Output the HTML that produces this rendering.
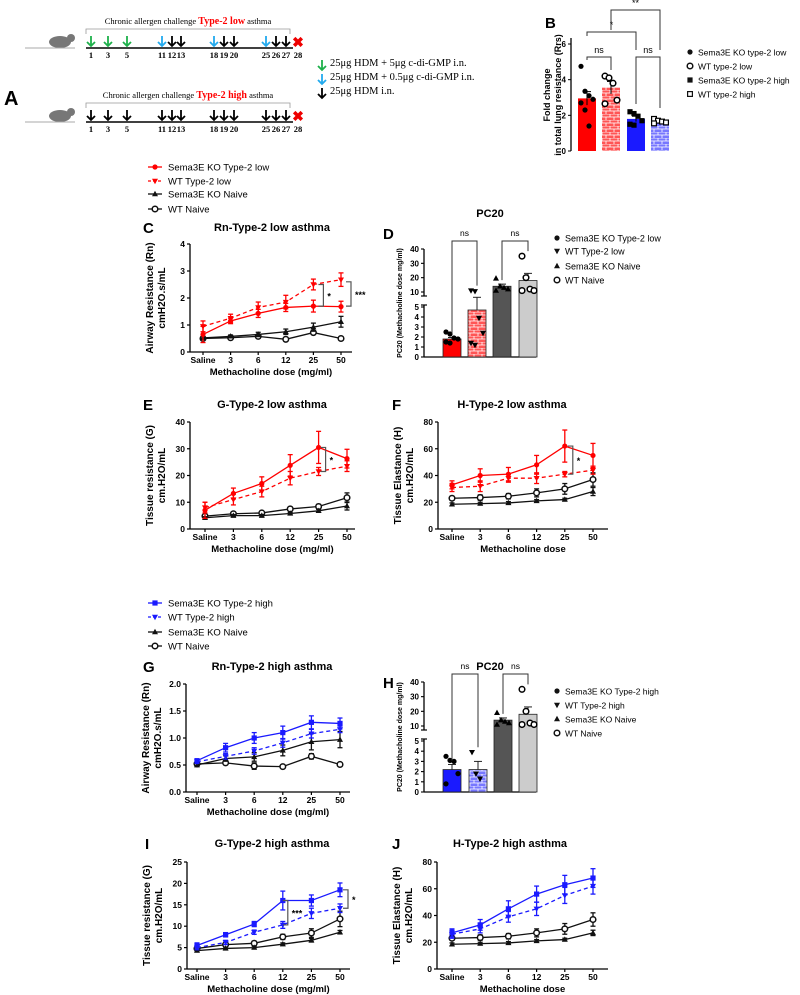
<!DOCTYPE html>
<html><head><meta charset="utf-8">
<style>
body{margin:0;background:#fff;}
svg{display:block;font-family:"Liberation Sans",Arial,sans-serif;}
.b{font-weight:bold;}
.serif{font-family:"Liberation Serif",serif;}
</style></head>
<body>
<svg id="fig" width="800" height="995" viewBox="0 0 800 995" xmlns="http://www.w3.org/2000/svg">
<g>
<text x="4" y="105" font-size="20" class="b">A</text>
<g id="tl"></g>
<text x="330" y="66" font-size="10.5" class="serif">25μg HDM + 5μg c-di-GMP i.n.</text>
<text x="330" y="80" font-size="10.5" class="serif">25μg HDM + 0.5μg c-di-GMP i.n.</text>
<text x="330" y="94" font-size="10.5" class="serif">25μg HDM i.n.</text>
</g>
<g id="g-b"></g>
<g id="g-c"></g>
<g id="g-d"></g>
<g id="g-e"></g>
<g id="g-f"></g>
<g id="g-g"></g>
<g id="g-h"></g>
<g id="g-i"></g>
<g id="g-j"></g>
<g id="legends"></g>
</svg>
<script>
const NS="http://www.w3.org/2000/svg";
const doseLabels=["Saline","3","6","12","25","50"];
const cKOlow=[0.65,1.15,1.43,1.65,1.7,1.68], cKOlowErr=[0.3,0.1,0.15,0.15,0.22,0.2];
const cWTlow=[0.95,1.25,1.65,1.85,2.5,2.68], cWTlowErr=[0.2,0.15,0.2,0.25,0.2,0.25];
const cKOnaive=[0.52,0.58,0.65,0.75,0.92,1.12], cKOnaiveErr=[0.04,0.05,0.08,0.1,0.15,0.2];
const cWTnaive=[0.5,0.53,0.58,0.47,0.72,0.5], cWTnaiveErr=[0.04,0.04,0.06,0.03,0.06,0.03];
const eKOlow=[7,13.3,17,23.8,30.5,26.3], eKOlowErr=[3,2,2.5,4,6,3.5];
const eWTlow=[8,11,14,19,21.5,23.5], eWTlowErr=[2,2,2,2.5,1.5,2];
const eKOnaive=[4.2,5,5,5.8,6.8,8.6], eKOnaiveErr=[0.4,0.4,0.4,0.4,0.5,1.5];
const eWTnaive=[4.8,5.7,6,7.5,8.4,11.7], eWTnaiveErr=[0.5,0.5,0.5,0.6,0.8,1.8];
const fKOlow=[33,40,41,48,62,55], fKOlowErr=[3,5,5,7,12,9];
const fWTlow=[31,32,38,38,41,44], fWTlowErr=[3,4,3,4,2,3];
const fKOnaive=[18.5,19,19.5,21,22,28], fKOnaiveErr=[1,1,1,1,1,3];
const fWTnaive=[23,23.5,24.5,27,30,37], fWTnaiveErr=[1.5,2,2,3,4,5];
const gKOhigh=[0.58,0.82,1.0,1.1,1.29,1.27], gKOhighErr=[0.03,0.08,0.1,0.12,0.12,0.1];
const gWThigh=[0.56,0.66,0.76,0.91,1.08,1.16], gWThighErr=[0.03,0.05,0.06,0.08,0.08,0.06];
const gKOnaive=[0.5,0.62,0.65,0.77,0.93,0.97], gKOnaiveErr=[0.03,0.05,0.08,0.1,0.15,0.15];
const gWTnaive=[0.52,0.54,0.48,0.47,0.66,0.51], gWTnaiveErr=[0.03,0.03,0.06,0.02,0.05,0.02];
const iKOhigh=[5.5,8,10.5,16,16,18.5], iKOhighErr=[0.6,0.5,0.6,2.2,1.3,1.6];
const iWThigh=[5,6.2,8.6,10.3,13,14.2], iWThighErr=[0.5,0.5,0.5,0.8,1.2,1];
const iKOnaive=[4.3,4.8,5,5.8,6.7,8.6], iKOnaiveErr=[0.3,0.3,0.3,0.3,0.4,0.4];
const iWTnaive=[4.8,5.7,6,7.5,8.4,11.7], iWTnaiveErr=[0.5,0.5,0.5,0.6,1,1.8];
const jKOhigh=[27,33,45,56,63,68], jKOhighErr=[3,4,6,6,7,7];
const jWThigh=[26,30,39,45,55,62], jWThighErr=[3,3,4,5,6,6];
const jKOnaive=[18.5,19,19.5,21,22,27], jKOnaiveErr=[1,1,1,1,1,2];
const jWTnaive=[23,23.5,24.5,27,30,37], jWTnaiveErr=[1.5,2,2,3,4,5];
const bCats=["Sema3E KO type-2 low","WT type-2 low","Sema3E KO type-2 high","WT type-2 high"];
const bMeans=[2.95,3.55,1.8,1.65], bErr=[0.38,0.35,0.15,0.1];
const bPts=[[4.75,3.35,3.1,2.9,2.7,2.3,1.4],[4.2,4.1,3.8,2.85,2.65],[2.2,2.1,1.95,1.7,1.5,1.45],[1.8,1.7,1.65,1.6,1.55]];
const bTicks=[0,2,4,6];
const dMeans=[1.8,4.7,14,18], dErr=[0.15,1.6,1.5,5];
const dPts=[[2.5,2.3,1.9,1.8,1.5,1.4],[11,10.5,3.9,2.4,1.4,1.2],[19.5,14,13,12,11],[35,20,12,11,11]];
const hMeans=[2.2,2.2,14,18], hErr=[0.5,0.8,1.5,5];
const hPts=[[3.5,3.1,3.0,1.8,0.8],[3.9,1.8,1.3],[19,14,13,12,11],[35,20,12,11,11]];
const pcTicksLow=[0,1,2,3,4,5], pcTicksHigh=[10,20,30,40];

function el(tag,attrs,parent,txt){const e=document.createElementNS(NS,tag);for(const k in attrs)e.setAttribute(k,attrs[k]);if(txt!==undefined)e.textContent=txt;parent.appendChild(e);return e;}

function marker(g,type,x,y,color){
  let m;
  if(type==="circle"){m=el("circle",{cx:x,cy:y,r:2.6,fill:color},g);}
  else if(type==="ocircle"){m=el("circle",{cx:x,cy:y,r:2.8,fill:"#fff",stroke:color,"stroke-width":1.5},g);}
  else if(type==="square"){m=el("rect",{x:x-2.6,y:y-2.6,width:5.2,height:5.2,fill:color},g);}
  else if(type==="osquare"){m=el("rect",{x:x-2.4,y:y-2.4,width:4.8,height:4.8,fill:"#fff",stroke:color,"stroke-width":1.2},g);}
  else if(type==="tri"){m=el("polygon",{points:`${x},${y-3.2} ${x-3},${y+2.2} ${x+3},${y+2.2}`,fill:color},g);}
  else {m=el("polygon",{points:`${x},${y+3.2} ${x-3},${y-2.2} ${x+3},${y-2.2}`,fill:color},g);}
  
  
}

function lineChart(g,o){
  const n=doseLabels.length;
  const X=i=>o.x0+(o.x1-o.x0)*i/(n-1);
  const Y=v=>o.yb-(o.yb-o.yt)*(v-o.ymin)/(o.ymax-o.ymin);
  const ya=el("line",{x1:o.ax,y1:o.yt,x2:o.ax,y2:o.yb,stroke:"#000","stroke-width":1.3},g);
  
  
  const xa=el("line",{x1:o.ax,y1:o.yb,x2:o.axEnd,y2:o.yb,stroke:"#000","stroke-width":1.3},g);
  
  
  o.yticks.forEach((t,k)=>{
    el("line",{x1:o.ax-3,y1:Y(t),x2:o.ax,y2:Y(t),stroke:"#000","stroke-width":1.2},g);
    const tl=el("text",{x:o.ax-5,y:Y(t)+3,"font-size":8.5,"text-anchor":"end",class:"b"},g,o.ytickLabels?o.ytickLabels[k]:t);
    
    
  });
  doseLabels.forEach((d,i)=>{
    el("line",{x1:X(i),y1:o.yb,x2:X(i),y2:o.yb+3,stroke:"#000","stroke-width":1.2},g);
    const tl=el("text",{x:X(i),y:o.yb+11,"font-size":8.5,"text-anchor":"middle",class:"b"},g,d);
    
    
  });
  const xt=el("text",{x:(o.ax+o.axEnd)/2,y:o.yb+23,"font-size":9.5,"text-anchor":"middle",class:"b"},g,o.xlabel);
  
  
  const cy=(o.yt+o.yb)/2;
  const y1=el("text",{x:0,y:0,"font-size":10,"text-anchor":"middle",class:"b",transform:`translate(${o.ax-37},${cy}) rotate(-90)`},g,o.ylab1);
  
  
  const y2=el("text",{x:0,y:0,"font-size":10,"text-anchor":"middle",class:"b",transform:`translate(${o.ax-25},${cy}) rotate(-90)`},g,o.ylab2);
  
  
  const tt=el("text",{x:o.titleX,y:o.titleY,"font-size":11,"text-anchor":"middle",class:"b"},g,o.title);
  
  
  const pl=el("text",{x:o.lblX,y:o.titleY+2,"font-size":15,class:"b"},g,o.letter);
  
  
  o.series.forEach(s=>{
    const sg=el("g",{},g);
    
    
    const pts=s.v.map((v,i)=>`${X(i)},${Y(v)}`).join(" ");
    el("polyline",{points:pts,fill:"none",stroke:s.color,"stroke-width":1.3,"stroke-dasharray":s.dash?"4,3":"none"},sg);
    s.v.forEach((v,i)=>{
      const e=s.e[i];
      el("line",{x1:X(i),y1:Y(v+e),x2:X(i),y2:Y(v-e),stroke:s.color,"stroke-width":1.3},sg);
      el("line",{x1:X(i)-2.5,y1:Y(v+e),x2:X(i)+2.5,y2:Y(v+e),stroke:s.color,"stroke-width":1.3},sg);
      el("line",{x1:X(i)-2.5,y1:Y(v-e),x2:X(i)+2.5,y2:Y(v-e),stroke:s.color,"stroke-width":1.3},sg);
      marker(sg,s.m,X(i),Y(v),s.color);
    });
  });
  (o.sig||[]).forEach(sg=>{
    const xx=X(sg.i)+sg.dx;
    const ya1=Y(sg.a), yb1=Y(sg.b);
    el("polyline",{points:`${xx-5},${ya1} ${xx},${ya1} ${xx},${yb1} ${xx-5},${yb1}`,fill:"none",stroke:"#555","stroke-width":1.2},g);
    const st=el("text",{x:xx+4,y:(ya1+yb1)/2+4,"font-size":9,class:"b"},g,sg.t);
    
    
  });
}

const RED="#f00", BLUE="#1a1aff", BLK="#111";
function lowSeries(a,ae,b,be,c,ce,d,de){return [
 {name:"series-wt-naive",v:d,e:de,color:BLK,m:"ocircle"},
 {name:"series-ko-naive",v:c,e:ce,color:BLK,m:"tri"},
 {name:"series-wt-type2-low",v:b,e:be,color:RED,m:"dtri",dash:true},
 {name:"series-ko-type2-low",v:a,e:ae,color:RED,m:"circle"}];}
function highSeries(a,ae,b,be,c,ce,d,de){return [
 {name:"series-wt-naive",v:d,e:de,color:BLK,m:"ocircle"},
 {name:"series-ko-naive",v:c,e:ce,color:BLK,m:"tri"},
 {name:"series-wt-type2-high",v:b,e:be,color:BLUE,m:"dtri",dash:true},
 {name:"series-ko-type2-high",v:a,e:ae,color:BLUE,m:"square"}];}

lineChart(document.getElementById("g-c"),{ax:190,axEnd:352,x0:203,x1:341,yt:244,yb:352,ymin:0,ymax:4,yticks:[0,1,2,3,4],
 xlabel:"Methacholine dose (mg/ml)",ylab1:"Airway Resistance (Rn)",ylab2:"cmH2O.s/mL",title:"Rn-Type-2 low asthma",titleX:272,titleY:231,lblX:143,letter:"C",
 series:lowSeries(cKOlow,cKOlowErr,cWTlow,cWTlowErr,cKOnaive,cKOnaiveErr,cWTnaive,cWTnaiveErr),
 sig:[{i:4,dx:10,a:2.5,b:1.7,t:"*"},{i:5,dx:10,a:2.6,b:1.7,t:"***"}]});
lineChart(document.getElementById("g-e"),{ax:190,axEnd:355,x0:205,x1:347,yt:422,yb:529,ymin:0,ymax:40,yticks:[0,10,20,30,40],
 xlabel:"Methacholine dose (mg/ml)",ylab1:"Tissue resistance (G)",ylab2:"cm.H2O/mL",title:"G-Type-2 low asthma",titleX:272,titleY:408,lblX:143,letter:"E",
 series:lowSeries(eKOlow,eKOlowErr,eWTlow,eWTlowErr,eKOnaive,eKOnaiveErr,eWTnaive,eWTnaiveErr),
 sig:[{i:4,dx:7,a:30.5,b:21.5,t:"*"}]});
lineChart(document.getElementById("g-f"),{ax:438,axEnd:608,x0:452,x1:593,yt:422,yb:529,ymin:0,ymax:80,yticks:[0,20,40,60,80],
 xlabel:"Methacholine dose",ylab1:"Tissue Elastance (H)",ylab2:"cm.H2O/mL",title:"H-Type-2 low asthma",titleX:512,titleY:408,lblX:392,letter:"F",
 series:lowSeries(fKOlow,fKOlowErr,fWTlow,fWTlowErr,fKOnaive,fKOnaiveErr,fWTnaive,fWTnaiveErr),
 sig:[{i:4,dx:8,a:62,b:41,t:"*"}]});
lineChart(document.getElementById("g-g"),{ax:186,axEnd:350,x0:197,x1:340,yt:684,yb:792,ymin:0,ymax:2,yticks:[0,0.5,1,1.5,2],ytickLabels:["0.0","0.5","1.0","1.5","2.0"],
 xlabel:"Methacholine dose (mg/ml)",ylab1:"Airway Resistance (Rn)",ylab2:"cmH2O.s/mL",title:"Rn-Type-2 high asthma",titleX:272,titleY:670,lblX:143,letter:"G",
 series:highSeries(gKOhigh,gKOhighErr,gWThigh,gWThighErr,gKOnaive,gKOnaiveErr,gWTnaive,gWTnaiveErr)});
lineChart(document.getElementById("g-i"),{ax:187,axEnd:350,x0:197,x1:340,yt:862,yb:969,ymin:0,ymax:25,yticks:[0,5,10,15,20,25],
 xlabel:"Methacholine dose (mg/ml)",ylab1:"Tissue resistance (G)",ylab2:"cm.H2O/mL",title:"G-Type-2 high asthma",titleX:272,titleY:847,lblX:145,letter:"I",
 series:highSeries(iKOhigh,iKOhighErr,iWThigh,iWThighErr,iKOnaive,iKOnaiveErr,iWTnaive,iWTnaiveErr),
 sig:[{i:3,dx:5,a:16,b:10.3,t:"***"},{i:5,dx:8,a:18.5,b:14.2,t:"*"}]});
lineChart(document.getElementById("g-j"),{ax:437,axEnd:608,x0:452,x1:593,yt:862,yb:969,ymin:0,ymax:80,yticks:[0,20,40,60,80],
 xlabel:"Methacholine dose",ylab1:"Tissue Elastance (H)",ylab2:"cm.H2O/mL",title:"H-Type-2 high asthma",titleX:510,titleY:847,lblX:392,letter:"J",
 series:highSeries(jKOhigh,jKOhighErr,jWThigh,jWThighErr,jKOnaive,jKOnaiveErr,jWTnaive,jWTnaiveErr)});

const svg=document.getElementById("fig");
const defs=el("defs",{},svg);
function brick(id,c,bg){const p=el("pattern",{id:id,width:8,height:6,patternUnits:"userSpaceOnUse"},defs);
 el("rect",{width:8,height:6,fill:bg},p);
 el("path",{d:"M0 0H8M0 3H8M2 0V3M6 3V6",stroke:c,"stroke-width":0.8,fill:"none"},p);}
brick("brickRed","#fff","#f55");
brick("brickBlue","#fff","#77f");

function pcChart(g,o,means,errs,pts){
  const Y=v=> v<=5 ? o.y0-(o.y0-o.y5)*v/5 : o.y10-(o.y10-o.y40)*(v-10)/30;
  const ax=o.ax;
  let a=el("line",{x1:ax,y1:o.y5-2,x2:ax,y2:o.y0,stroke:"#000","stroke-width":1.3},g);
  
  
  a=el("line",{x1:ax,y1:o.y40,x2:ax,y2:o.y10+4,stroke:"#000","stroke-width":1.3},g);
  
  
  el("line",{x1:ax-3,y1:o.y10+4,x2:ax+3,y2:o.y10+4,stroke:"#000","stroke-width":1.2},g);
  el("line",{x1:ax-3,y1:o.y5-2,x2:ax+3,y2:o.y5-2,stroke:"#000","stroke-width":1.2},g);
  const xa=el("line",{x1:ax,y1:o.y0,x2:ax+112,y2:o.y0,stroke:"#000","stroke-width":1.3},g);
  
  
  pcTicksLow.concat(pcTicksHigh).forEach(t=>{
    el("line",{x1:ax-3,y1:Y(t),x2:ax,y2:Y(t),stroke:"#000","stroke-width":1.1},g);
    const tl=el("text",{x:ax-5,y:Y(t)+3,"font-size":8,"text-anchor":"end",class:"b"},g,t);
    
    
  });
  const yt=el("text",{x:0,y:0,"font-size":7,"text-anchor":"middle",class:"b",transform:`translate(${ax-22},${(o.y0+o.y40)/2}) rotate(-90)`},g,"PC20 (Methacholine dose mg/ml)");
  
  
  means.forEach((m,i)=>{
    const x=o.xs[i];
    const r=el("rect",{x:x-9,y:Y(m),width:18,height:o.y0-Y(m),fill:o.fills[i],stroke:"#222","stroke-width":0.8},g);
    
    
    el("line",{x1:x,y1:Y(m+errs[i]),x2:x,y2:Y(m),stroke:"#222","stroke-width":1},g);
    el("line",{x1:x-4,y1:Y(m+errs[i]),x2:x+4,y2:Y(m+errs[i]),stroke:"#222","stroke-width":1},g);
    pts[i].forEach((p,k)=>marker(g,o.marks[i],x-6+(k%4)*4,Y(p),"#000"));
  });
  [[0,1],[2,3]].forEach(([a1,b1])=>{
    const top=o.y40-8;
    el("polyline",{points:`${o.xs[a1]},${Y(means[a1]+errs[a1])-4} ${o.xs[a1]},${top} ${o.xs[b1]},${top} ${o.xs[b1]},${Y(Math.max(...pts[b1]))-5}`,fill:"none",stroke:"#333","stroke-width":1},g);
    const t=el("text",{x:(o.xs[a1]+o.xs[b1])/2,y:top-5,"font-size":8.5,"text-anchor":"middle"},g,"ns");
    
    
  });
  const tt=el("text",{x:490,y:o.titleY,"font-size":11,"text-anchor":"middle",class:"b"},g,"PC20");
  
  
  const pl=el("text",{x:383,y:o.lblY,"font-size":15,class:"b"},g,o.letter);
  
  
}
pcChart(document.getElementById("g-d"),{ax:424,y0:357,y5:307,y10:292,y40:249,xs:[452,477,502,528],fills:["#f00","url(#brickRed)","#555","#ccc"],marks:["circle","dtri","tri","ocircle"],titleY:217,lblY:239,letter:"D"},dMeans,dErr,dPts);
pcChart(document.getElementById("g-h"),{ax:424,y0:792,y5:741,y10:726,y40:682,xs:[452,478,503,528],fills:["#1a1aff","url(#brickBlue)","#555","#ccc"],marks:["circle","dtri","tri","ocircle"],titleY:670,lblY:688,letter:"H"},hMeans,hErr,hPts);

(function(){
  const g=document.getElementById("g-b");
  const ax=571, y0=151, y6=44;
  const Y=v=>y0-(y0-y6)*v/6;
  const xs=[587,611,636,660];
  const fills=["#f00","url(#brickRed)","#1a1aff","url(#brickBlue)"];
  const mk=["circle","ocircle","square","osquare"];
  let a=el("line",{x1:ax,y1:38,x2:ax,y2:y0,stroke:"#000","stroke-width":1.3},g);
  
  
  bTicks.forEach(t=>{el("line",{x1:ax-3,y1:Y(t),x2:ax,y2:Y(t),stroke:"#000"},g);
    const tl=el("text",{x:ax-5,y:Y(t)+3,"font-size":8,"text-anchor":"end",class:"b"},g,t);
    
    });
  const t1=el("text",{x:0,y:0,"font-size":9,"text-anchor":"middle",class:"b",transform:`translate(550,95) rotate(-90)`},g,"Fold change");
  
  
  const t2=el("text",{x:0,y:0,"font-size":9,"text-anchor":"middle",class:"b",transform:`translate(561,95) rotate(-90)`},g,"in total lung resistance (Rrs)");
  
  
  const pl=el("text",{x:545,y:28,"font-size":15,class:"b"},g,"B");
  
  
  bMeans.forEach((m,i)=>{
    const r=el("rect",{x:xs[i]-9,y:Y(m),width:18,height:y0-Y(m),fill:fills[i]},g);
    
    
    el("line",{x1:xs[i],y1:Y(m+bErr[i]),x2:xs[i],y2:Y(m-bErr[i]),stroke:"#000"},g);
    el("line",{x1:xs[i]-4,y1:Y(m+bErr[i]),x2:xs[i]+4,y2:Y(m+bErr[i]),stroke:"#000"},g);
    bPts[i].forEach((p,k)=>marker(g,mk[i],xs[i]-6+(k%4)*4,Y(p),"#000"));
  });
  const br=(x1,x2,top,y1,y2,t)=>{el("polyline",{points:`${x1},${y1} ${x1},${top} ${x2},${top} ${x2},${y2}`,fill:"none",stroke:"#333"},g);
    const s=el("text",{x:(x1+x2)/2,y:top-4,"font-size":9,"text-anchor":"middle"},g,t);
    
    };
  br(587,611,57,60,70,"ns");br(636,660,57,104,108,"ns");br(587,636,32,36,50,"*");br(611,660,10,30,50,"**");
})();

(function(){
  const g=document.getElementById("legends");
  function item(x,y,type,color,dash,text,name,size){
    const it=el("g",{},g);
    
    
    if(dash!==null) el("line",{x1:x,y1:y,x2:x+14,y2:y,stroke:color,"stroke-width":1.3,"stroke-dasharray":dash?"3,2":"none"},it);
    marker(it,type,x+7,y,color);
    el("text",{x:x+(dash!==null?20:15),y:y+3.5,"font-size":size||9.5},it,text);
  }
  item(148,167,"circle",RED,false,"Sema3E KO Type-2 low","legend-ko-type2-low");
  item(148,181,"dtri",RED,true,"WT Type-2 low","legend-wt-type2-low");
  item(148,194,"tri",BLK,false,"Sema3E KO Naive","legend-ko-naive");
  item(148,209,"ocircle",BLK,false,"WT Naive","legend-wt-naive");
  item(148,603,"square",BLUE,false,"Sema3E KO Type-2 high","legend-ko-type2-high");
  item(148,617,"dtri",BLUE,true,"WT Type-2 high","legend-wt-type2-high");
  item(148,632,"tri",BLK,false,"Sema3E KO Naive","legend-ko-naive-2");
  item(148,646,"ocircle",BLK,false,"WT Naive","legend-wt-naive-2");
  item(550,238,"circle",BLK,null,"Sema3E KO Type-2 low","legend-d-ko-low",9);
  item(550,251,"dtri",BLK,null,"WT Type-2 low","legend-d-wt-low",9);
  item(550,266,"tri",BLK,null,"Sema3E KO Naive","legend-d-ko-naive",9);
  item(550,280,"ocircle",BLK,null,"WT Naive","legend-d-wt-naive",9);
  item(550,691,"circle",BLK,null,"Sema3E KO Type-2 high","legend-h-ko-high",8.5);
  item(550,705,"dtri",BLK,null,"WT Type-2 high","legend-h-wt-high",8.5);
  item(550,719,"tri",BLK,null,"Sema3E KO Naive","legend-h-ko-naive",8.5);
  item(550,733,"ocircle",BLK,null,"WT Naive","legend-h-wt-naive",8.5);
  item(683,52,"circle",BLK,null,"Sema3E KO type-2 low","legend-b-ko-low",8.5);
  item(683,66,"ocircle",BLK,null,"WT type-2 low","legend-b-wt-low",8.5);
  item(683,80,"square",BLK,null,"Sema3E KO type-2 high","legend-b-ko-high",8.5);
  item(683,94,"osquare",BLK,null,"WT type-2 high","legend-b-wt-high",8.5);
})();

(function(){
  const g=document.getElementById("tl");
  const days=[1,3,5,11,12,13,18,19,20,25,26,27,28];
  const dx={1:91,3:108,5:127,11:162,12:172,13:181,18:214,19:224,20:234,25:266,26:276,27:286,28:298};
  function arrow(x,y,c){el("path",{d:`M${x} ${y-10}V${y} M${x-4} ${y-4}L${x} ${y}L${x+4} ${y-4}`,stroke:c,"stroke-width":1.8,fill:"none"},g);}
  function timeline(y,low){
    const grp=el("g",{},g);
    
    
    el("ellipse",{cx:60,cy:y-6,rx:11,ry:6,fill:"#777"},grp);
    el("circle",{cx:71,cy:y-10,r:4,fill:"#777"},grp);
    el("line",{x1:25,y1:y,x2:75,y2:y,stroke:"#aaa","stroke-width":1},grp);
    el("polyline",{points:`86,${y-14} 86,${y-19} 290,${y-19} 290,${y-14}`,fill:"none",stroke:"#999","stroke-width":0.8},grp);
    const t=el("text",{x:188,y:y-24,"font-size":8.5,"text-anchor":"middle",class:"serif"},grp);
    el("tspan",{},t,"Chronic allergen challenge ");
    el("tspan",{fill:"#f00","font-weight":"bold","font-size":10},t,low?"Type-2 low":"Type-2 high");
    el("tspan",{},t," asthma");
    el("line",{x1:86,y1:y,x2:293,y2:y,stroke:"#000","stroke-width":1.6},grp);
    days.forEach(d=>{
      el("text",{x:dx[d],y:y+10,"font-size":8.5,"text-anchor":"middle",class:"serif b"},grp,d);
      if(d===28){el("text",{x:dx[d],y:y-1,"font-size":14,"text-anchor":"middle",fill:"#e00",class:"b"},grp,"✖");return;}
      let c="#000";
      if(low){if(d<=5)c="#1db04a";else if(d===11||d===18||d===25)c="#22aaee";}
      arrow(dx[d],y-2,c);
    });
  }
  timeline(48,true);
  timeline(122,false);
  arrow(322,70,"#1db04a");arrow(322,84,"#22aaee");arrow(322,98,"#000");
})();
</script>
</body></html>
